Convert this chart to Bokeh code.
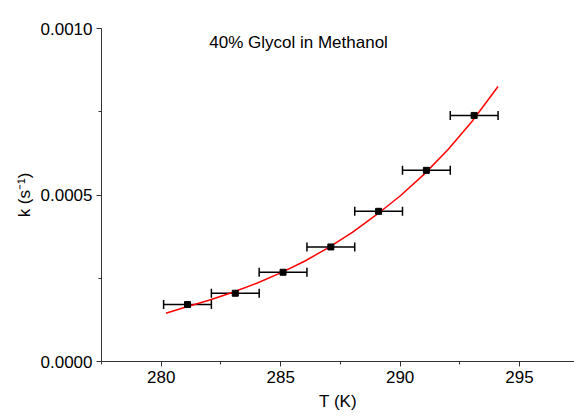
from bokeh.plotting import figure
from bokeh.models import (ColumnDataSource, Whisker, TeeHead, FixedTicker,
                          Range1d, Label, PrintfTickFormatter)
from bokeh.embed import file_html
from bokeh.resources import INLINE

# data
T = [281.1, 283.1, 285.1, 287.1, 289.1, 291.1, 293.1]
k = [0.000171, 0.000205, 0.000268, 0.000344, 0.000451, 0.000574, 0.000739]
T_err = [1.0, 1.0, 1.0, 1.0, 1.0, 1.0, 1.0]

fit_T = [280.2, 281, 282, 283, 284, 285, 286, 287, 288, 289, 290, 291, 292, 293, 294.1]
fit_k = [0.000145, 0.000163, 0.000184, 0.000208, 0.000235, 0.000266, 0.000301, 0.000342,
         0.000388, 0.000440, 0.000497, 0.000562, 0.000636, 0.000720, 0.000826]

x_ticks = [280, 285, 290, 295]
x_minor = [277.5, 282.5, 287.5, 292.5, 297.5]
y_ticks = [0.0, 0.0005, 0.0010]
y_minor = [0.00025, 0.00075]
title_text = "40% Glycol in Methanol"

FONT = "Liberation Sans"

p = figure(width=574, height=419, output_backend="svg", toolbar_location=None,
           x_range=Range1d(277.5, 297.3), y_range=Range1d(0.0, 0.0010),
           min_border_left=101, min_border_right=0, min_border_top=28,
           min_border_bottom=58)
p.outline_line_color = None
p.xgrid.visible = False
p.ygrid.visible = False
p.background_fill_color = "white"
p.border_fill_color = "white"

src = ColumnDataSource(dict(T=T, k=k,
                            lo=[t - e for t, e in zip(T, T_err)],
                            hi=[t + e for t, e in zip(T, T_err)]))

p.line(fit_T, fit_k, line_color="red", line_width=1.5)

w = Whisker(source=src, base="k", lower="lo", upper="hi", dimension="width",
            line_color="black", line_width=1.5,
            upper_head=TeeHead(size=9, line_color="black", line_width=1.5),
            lower_head=TeeHead(size=9, line_color="black", line_width=1.5))
p.add_layout(w)
p.scatter("T", "k", source=src, marker="square", size=6, color="black")

for ax in (p.xaxis[0], p.yaxis[0]):
    ax.axis_line_color = "#333333"
    ax.axis_line_width = 1
    ax.major_tick_line_color = "#333333"
    ax.minor_tick_line_color = "#333333"
    ax.major_tick_out = 5
    ax.major_tick_in = 0
    ax.minor_tick_out = 3
    ax.minor_tick_in = 0
    ax.major_label_text_font = FONT
    ax.major_label_text_font_size = "17px"
    ax.major_label_text_color = "black"
    ax.axis_label_text_font = FONT
    ax.axis_label_text_font_size = "17px"
    ax.axis_label_text_font_style = "normal"
    ax.axis_label_text_color = "black"

p.xaxis[0].ticker = FixedTicker(ticks=x_ticks, minor_ticks=x_minor)
p.yaxis[0].ticker = FixedTicker(ticks=y_ticks, minor_ticks=y_minor)
p.yaxis[0].formatter = PrintfTickFormatter(format="%.4f")
p.xaxis[0].axis_label = "T (K)"
p.yaxis[0].axis_label = "k (s\u207b\u00b9)"
p.xaxis[0].major_label_standoff = 4
p.xaxis[0].axis_label_standoff = 6
p.yaxis[0].major_label_standoff = 4
p.yaxis[0].axis_label_standoff = 4

p.add_layout(Label(x=285.75, y=0.000958, text=title_text, text_font=FONT,
                   text_font_size="17px", text_align="center",
                   text_baseline="middle", text_color="black"))

open("out.html", "w").write(file_html(p, INLINE))
